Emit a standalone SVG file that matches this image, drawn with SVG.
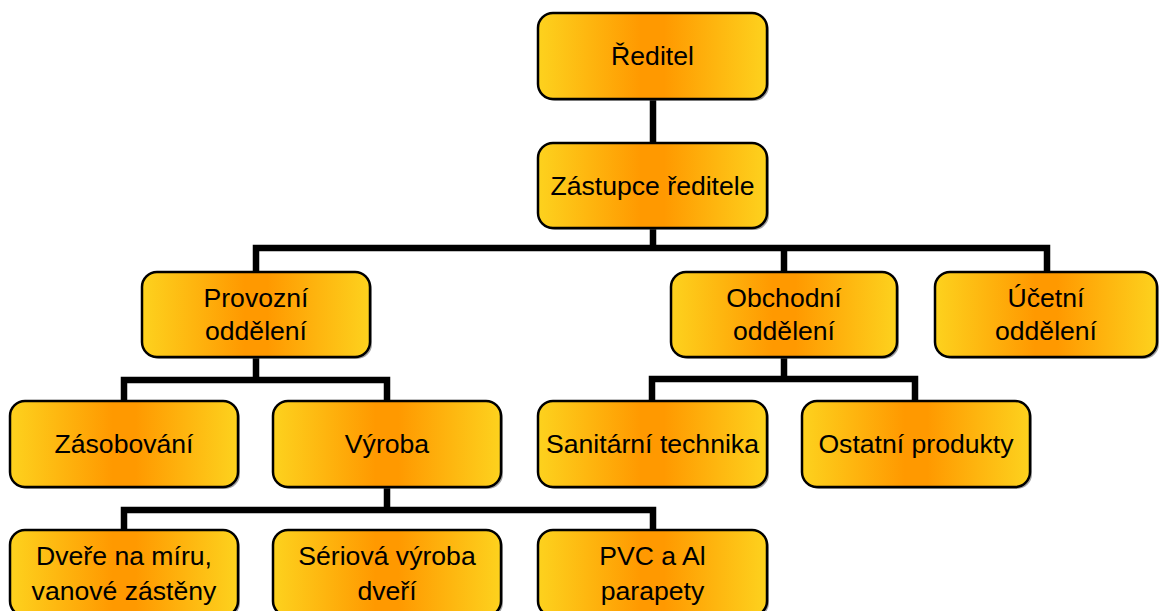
<svg xmlns="http://www.w3.org/2000/svg" width="1160" height="611" viewBox="0 0 1160 611">
  <defs>
    <linearGradient id="fill" x1="0" y1="0" x2="1" y2="0">
      <stop offset="0" stop-color="#FDD21E"/>
      <stop offset="0.45" stop-color="#FF9900"/>
      <stop offset="0.55" stop-color="#FF9900"/>
      <stop offset="1" stop-color="#FDD21E"/>
    </linearGradient>
  </defs>
  <style>
    .box { fill: url(#fill); stroke: #000; stroke-width: 2.5; }
    .shadow { fill: #555; opacity: 0.55; }
    .lbl { font-family: "Liberation Sans", Arial, sans-serif; font-size: 26.6px; fill: #000; text-anchor: middle; }
    .wire { fill: none; stroke: #000; stroke-width: 6.5; stroke-linejoin: miter; stroke-linecap: square; }
  </style>
  <rect width="1160" height="611" fill="#fff"/>

  <!-- connectors -->
  <g id="connectors">
    <path class="wire" d="M653 99 V143"/>
    <path class="wire" d="M653 228 V248 M256 271 V248 H1047 V271 M784 248 V271"/>
    <path class="wire" d="M256 357 V380 M124 401 V380 H387 V401"/>
    <path class="wire" d="M784 357 V379 M652 401 V379 H915 V401"/>
    <path class="wire" d="M387 487 V510 M124 530 V510 H653 V530"/>
  </g>

  <!-- level 0 -->
  <g id="reditel">
    <rect class="shadow" x="540" y="15" width="229" height="86" rx="15"/>
    <rect class="box" x="538" y="13" width="229" height="86" rx="15"/>
    <text class="lbl" x="652.5" y="65">Ředitel</text>
  </g>
  <g id="zastupce">
    <rect class="shadow" x="540" y="145" width="229" height="85" rx="15"/>
    <rect class="box" x="538" y="143" width="229" height="85" rx="15"/>
    <text class="lbl" x="652.5" y="195">Zástupce ředitele</text>
  </g>

  <!-- departments -->
  <g id="provozni">
    <rect class="shadow" x="144" y="274" width="228" height="85" rx="15"/>
    <rect class="box" x="142" y="272" width="228" height="85" rx="15"/>
    <text class="lbl" x="256" y="307">Provozní</text>
    <text class="lbl" x="256" y="340">oddělení</text>
  </g>
  <g id="obchodni">
    <rect class="shadow" x="673" y="274" width="226" height="85" rx="15"/>
    <rect class="box" x="671" y="272" width="226" height="85" rx="15"/>
    <text class="lbl" x="784" y="307">Obchodní</text>
    <text class="lbl" x="784" y="340">oddělení</text>
  </g>
  <g id="ucetni">
    <rect class="shadow" x="937" y="274" width="222" height="85" rx="15"/>
    <rect class="box" x="935" y="272" width="222" height="85" rx="15"/>
    <text class="lbl" x="1046" y="307">Účetní</text>
    <text class="lbl" x="1046" y="340">oddělení</text>
  </g>

  <!-- sections -->
  <g id="zasobovani">
    <rect class="shadow" x="12" y="403" width="228" height="86" rx="15"/>
    <rect class="box" x="10" y="401" width="228" height="86" rx="15"/>
    <text class="lbl" x="124" y="453">Zásobování</text>
  </g>
  <g id="vyroba">
    <rect class="shadow" x="275" y="403" width="228" height="86" rx="15"/>
    <rect class="box" x="273" y="401" width="228" height="86" rx="15"/>
    <text class="lbl" x="387" y="453">Výroba</text>
  </g>
  <g id="sanitarni">
    <rect class="shadow" x="540" y="403" width="229" height="86" rx="15"/>
    <rect class="box" x="538" y="401" width="229" height="86" rx="15"/>
    <text class="lbl" x="652.5" y="453">Sanitární technika</text>
  </g>
  <g id="ostatni">
    <rect class="shadow" x="804" y="403" width="228" height="86" rx="15"/>
    <rect class="box" x="802" y="401" width="228" height="86" rx="15"/>
    <text class="lbl" x="916" y="453">Ostatní produkty</text>
  </g>

  <!-- production lines -->
  <g id="dvere">
    <rect class="shadow" x="12" y="532" width="228" height="86" rx="15"/>
    <rect class="box" x="10" y="530" width="228" height="86" rx="15"/>
    <text class="lbl" x="124" y="565">Dveře na míru,</text>
    <text class="lbl" x="124" y="600">vanové zástěny</text>
  </g>
  <g id="seriova">
    <rect class="shadow" x="275" y="532" width="228" height="86" rx="15"/>
    <rect class="box" x="273" y="530" width="228" height="86" rx="15"/>
    <text class="lbl" x="387" y="565">Sériová výroba</text>
    <text class="lbl" x="387" y="600">dveří</text>
  </g>
  <g id="pvc">
    <rect class="shadow" x="540" y="532" width="229" height="86" rx="15"/>
    <rect class="box" x="538" y="530" width="229" height="86" rx="15"/>
    <text class="lbl" x="652.5" y="565">PVC a Al</text>
    <text class="lbl" x="652.5" y="600">parapety</text>
  </g>
</svg>
